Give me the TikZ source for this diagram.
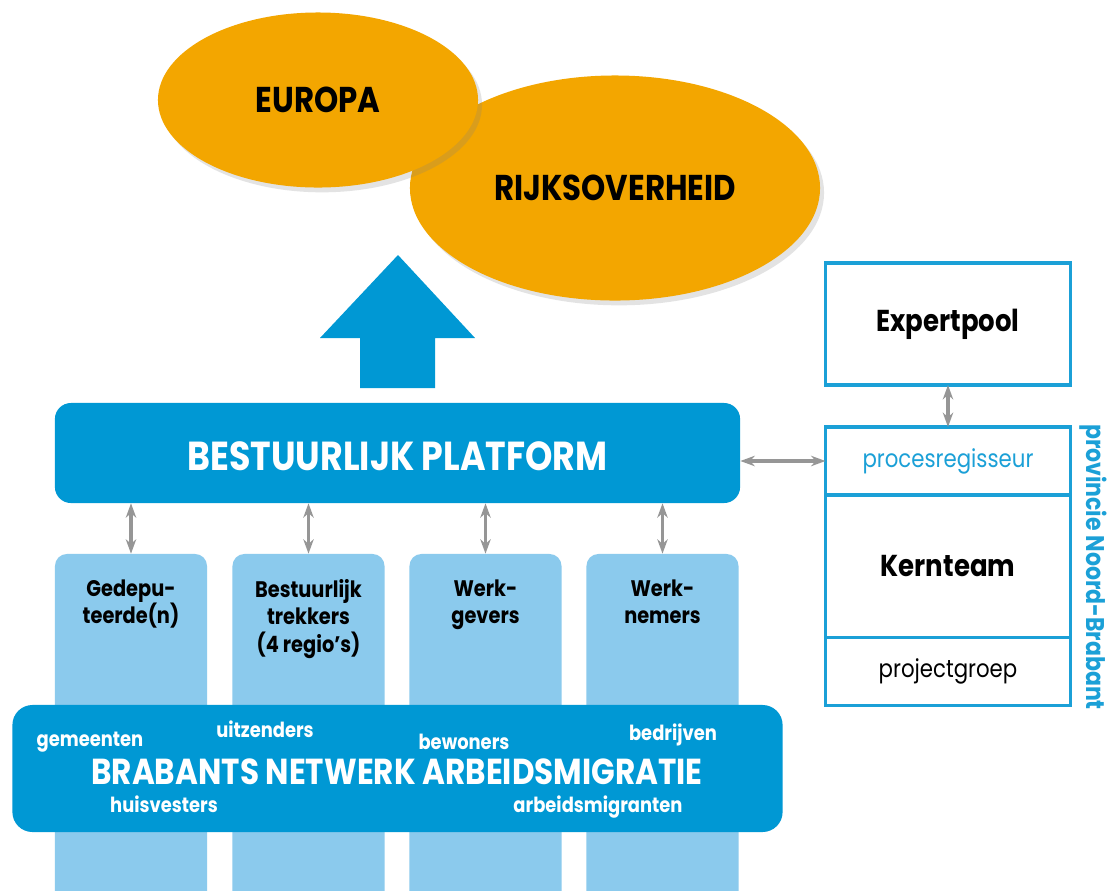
\documentclass[tikz,border=0pt]{standalone}
\usepackage{fontspec}
\setmainfont{Poppins}[FakeStretch=0.86]
\usetikzlibrary{positioning,shapes.geometric,arrows.meta,shadows}
\definecolor{euorange}{RGB}{243,166,0}
\definecolor{bpblue}{RGB}{0,152,212}
\definecolor{colblue}{RGB}{139,202,237}
\definecolor{lineblue}{RGB}{27,160,215}
\definecolor{arrowgray}{RGB}{150,150,150}
\tikzset{
  >={Stealth[length=3.6mm,width=2.6mm]},
  blob/.style={
    ellipse,
    fill=euorange,
    inner sep=0pt,
    font=\bfseries\fontsize{25.5}{28}\selectfont,
    drop shadow={opacity=0.22,shadow xshift=1mm,shadow yshift=-1.2mm}
  },
  bluebar/.style={
    rectangle,
    fill=bpblue,
    text=white,
    inner sep=0pt
  },
  column/.style={
    rectangle,
    fill=colblue,
    rounded corners=3mm,
    minimum width=3.8cm,
    minimum height=9.15cm,
    inner sep=0pt
  },
  coltext/.style={
    anchor=north,
    align=center,
    font=\bfseries\fontsize{16}{19.5}\selectfont
  },
  actor/.style={
    text=white,
    font=\bfseries\fontsize{14.8}{16}\selectfont
  },
  frame/.style={
    draw=lineblue,
    line width=2.2pt,
    minimum width=6.125cm,
    outer sep=0pt,
    inner sep=0pt
  },
  link/.style={
    <->,
    draw=arrowgray,
    line width=2.2pt
  }
}
\begin{document}
\begin{tikzpicture}[x=0.025cm,y=-0.025cm]
\clip (0,0) rectangle (1107,890);
\fill[white] (0,0) rectangle (1107,890);
% top: Europe and the state
\node[blob,minimum width=10.25cm,minimum height=5.625cm] (rijk) at (615,188) {RIJKSOVERHEID};
\node[blob,minimum width=8cm,minimum height=4.375cm] (europa) at (318,100) {EUROPA};
\fill[bpblue] (360,388) -- (360,338) -- (320,338) -- (398,255)
              -- (475,338) -- (435,338) -- (435,388) -- cycle;
% platform, columns and network
\node[column] (col1) at (131,737) {};
\node[column] (col2) at (308.5,737) {};
\node[column] (col3) at (485.5,737) {};
\node[column] (col4) at (662.5,737) {};
\node[coltext] (gedtxt)  at ([yshift=-0.52cm]col1.north) {Gedepu-\\teerde(n)};
\node[coltext] (trektxt) at ([yshift=-0.52cm]col2.north) {Bestuurlijk\\trekkers\\(4 regio’s)};
\node[coltext] (gevtxt)  at ([yshift=-0.52cm]col3.north) {Werk-\\gevers};
\node[coltext] (nemtxt)  at ([yshift=-0.52cm]col4.north) {Werk-\\nemers};
\node[bluebar,rounded corners=4mm,minimum width=17.125cm,minimum height=2.5cm] (platform) at (397.5,453) {};
\node[text=white,font=\bfseries\fontsize{28.8}{31}\selectfont] (platformtxt) at (397.5,456) {BESTUURLIJK PLATFORM};
\node[bluebar,rounded corners=5mm,minimum width=19.25cm,minimum height=3.175cm] (netwerk) at (397.5,768.5) {};
\node[text=white,font=\bfseries\fontsize{25.7}{28}\selectfont] (netwerktxt) at (397,772) {BRABANTS NETWERK ARBEIDSMIGRATIE};
\node[actor] (gemeenten)   at (90,742)  {gemeenten};
\node[actor] (uitzenders)  at (265,729) {uitzenders};
\node[actor] (bewoners)    at (464,742) {bewoners};
\node[actor] (bedrijven)   at (673,735) {bedrijven};
\node[actor] (huisvesters) at (164,804) {huisvesters};
\node[actor] (migranten)   at (598,807) {arbeidsmigranten};
% province side
\node[frame,minimum height=3.05cm,font=\bfseries\fontsize{21.5}{24}\selectfont] (expert) at (948,324) {Expertpool};
\node[frame,minimum height=1.7cm,text=lineblue,font=\fontsize{17.6}{20}\selectfont] (procbox) at (948,461) {procesregisseur};
\node[frame,minimum height=3.55cm,below=0pt of procbox,font=\bfseries\fontsize{21.5}{24}\selectfont] (kernbox) {Kernteam};
\node[frame,minimum height=1.7cm,below=0pt of kernbox,font=\fontsize{17.6}{20}\selectfont] (projbox) {projectgroep};
\node[rotate=-90,anchor=south,text=lineblue,font=\bfseries\fontsize{18.2}{20}\selectfont] (provtxt)
      at ([xshift=0.1cm]kernbox.east |- 0,567) {provincie Noord-Brabant};
% connectors
\foreach \c in {col1,col2,col3,col4}
  \draw[link] (\c.north |- platform.south) -- (\c.north);
\draw[link] (platform.east |- procbox.west) -- (procbox.west);
\draw[link] (expert.south) -- (procbox.north);
\end{tikzpicture}
\end{document}
